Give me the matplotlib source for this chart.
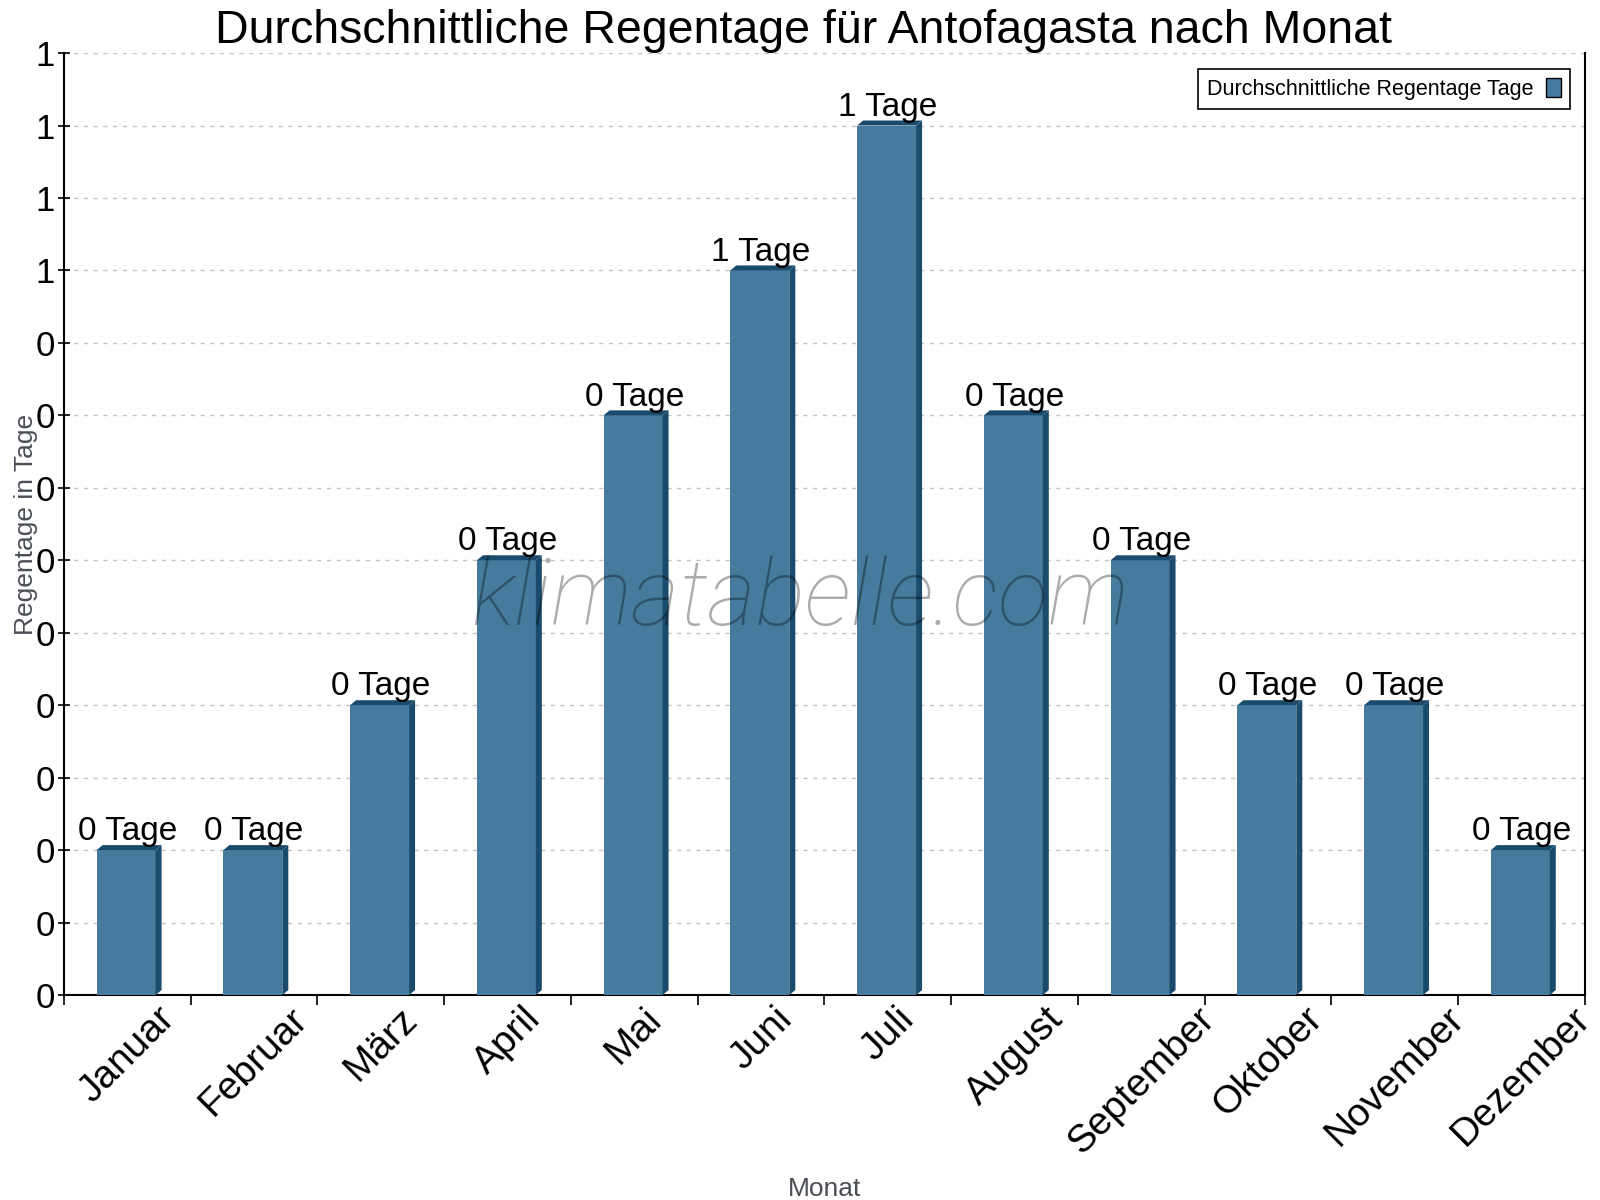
import math
import numpy as np
import matplotlib
matplotlib.use('Agg')
import matplotlib.pyplot as plt
from matplotlib.patches import Polygon, Patch
from matplotlib.ticker import FixedLocator, FuncFormatter

plt.rcParams['font.family'] = ['Liberation Sans', 'DejaVu Sans']

# Daten
monate = ['Januar', 'Februar', 'März', 'April', 'Mai', 'Juni', 'Juli',
          'August', 'September', 'Oktober', 'November', 'Dezember']
regentage = [0.1, 0.1, 0.2, 0.3, 0.4, 0.5, 0.6, 0.4, 0.3, 0.2, 0.2, 0.1]
y_ticks = [i * 0.05 for i in range(14)]

titel = 'Durchschnittliche Regentage für Antofagasta nach Monat'
legende = 'Durchschnittliche Regentage Tage'

front_farbe = '#467b9d'
seiten_farbe = '#1b4b6c'


def runden(v):
    return int(math.floor(v + 0.5 + 1e-9))


fig = plt.figure(figsize=(16, 12), dpi=100)
ax = fig.add_axes([0.04, 0.1708, 0.9506, 0.785])

x = np.arange(len(monate))
breite = 0.465
bars = ax.bar(x - 0.01, regentage, width=breite, color=front_farbe, zorder=3)

ax.set_xlim(-0.5, len(monate) - 0.5)
ax.set_ylim(0, y_ticks[-1])

# Gitter und Achsen
ax.yaxis.set_major_locator(FixedLocator(y_ticks))
ax.yaxis.set_major_formatter(FuncFormatter(lambda v, p: str(runden(v))))
ax.grid(axis='y', color='#c4c4c4', linestyle=(0, (3, 4)), linewidth=1, zorder=0)
ax.tick_params(axis='y', direction='inout', length=9, width=1.2, labelsize=25, pad=2)

ax.set_xticks(x)
ax.set_xticklabels(monate, rotation=45, ha='center', fontsize=28)
ax.set_xticks(np.arange(len(monate) + 1) - 0.5, minor=True)
ax.tick_params(axis='x', which='major', length=0, pad=4)
ax.tick_params(axis='x', which='minor', direction='out', length=7, width=1.2)

ax.spines['top'].set_visible(False)
for s in ['left', 'right', 'bottom']:
    ax.spines[s].set_linewidth(1.5)

ax.set_title(titel, fontsize=33.5, pad=6, x=0.486)
ax.set_xlabel('Monat', fontsize=19, color='#4a4f57', labelpad=12)
ax.set_ylabel('Regentage in Tage', fontsize=19, color='#4a4f57')
ax.yaxis.set_label_coords(-0.017, 0.5)

# 3D-Effekt: Seite und Deckel in Pixeln versetzt
dx, dy = 6, 5
inv = ax.transData.inverted()
for b in bars:
    xl = b.get_x()
    xr = xl + b.get_width()
    h = b.get_height()
    p_rb = ax.transData.transform((xr, 0))
    p_lt = ax.transData.transform((xl, h))
    p_rt = ax.transData.transform((xr, h))
    seite = [p_rb, p_rt, p_rt + [dx, dy], p_rb + [dx, dy]]
    deckel = [p_lt, p_lt + [dx, dy], p_rt + [dx, dy], p_rt]
    for pts in (seite, deckel):
        ax.add_patch(Polygon(inv.transform(np.array(pts)), closed=True,
                             facecolor=seiten_farbe, edgecolor='none', zorder=3))
    ax.annotate(f'{runden(h)} Tage', (b.get_x() + b.get_width() / 2 + 0.01, h),
                xytext=(0, 2), textcoords='offset points',
                ha='center', va='bottom', fontsize=24, zorder=5)

# Wasserzeichen
ax.text(0.484, 0.42, 'klimatabelle.com', transform=ax.transAxes,
        fontsize=67, style='italic', fontweight='light',
        family=['Roboto', 'DejaVu Sans'], color='black', alpha=0.33,
        ha='center', va='center', zorder=6)

leg = ax.legend([Patch(facecolor=front_farbe, edgecolor='black')], [legende],
                loc='upper right', bbox_to_anchor=(0.997, 0.994),
                fontsize=15.5, markerfirst=False, fancybox=False,
                framealpha=1, edgecolor='black', handlelength=0.7,
                handleheight=1.0, borderpad=0.4, handletextpad=0.6)
leg.get_frame().set_linewidth(1.2)

fig.savefig('out.png', dpi=100)
